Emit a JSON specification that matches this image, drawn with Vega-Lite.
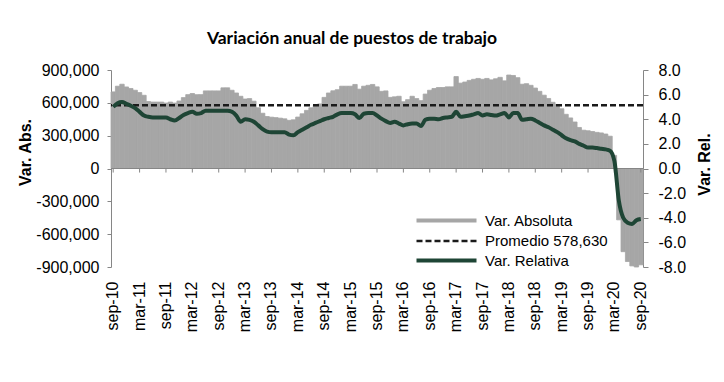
{
  "$schema": "https://vega.github.io/schema/vega-lite/v6.json",
  "width": 532,
  "height": 197,
  "autosize": {"type": "none"},
  "padding": {"left": 111, "top": 70, "right": 81, "bottom": 115},
  "background": "white",
  "title": {"text": "Variación anual de puestos de trabajo", "font": "Lato", "fontSize": 17.5, "fontWeight": "bold", "color": "#000000", "anchor": "middle", "dx": -25, "offset": 15},
  "config": {
    "view": {"stroke": null},
    "axis": {"grid": false, "labelFont": "Liberation Sans", "titleFont": "Liberation Sans", "labelColor": "#000000", "titleColor": "#000000", "domainColor": "#868686", "tickColor": "#868686", "labelOverlap": false, "labelBound": false, "labelFlush": false}
  },
  "data": {"values": [
    {"m": "sep-10", "abs": 700000, "rel": 5.0},
    {"m": "oct-10", "abs": 752000, "rel": 5.3},
    {"m": "nov-10", "abs": 770000, "rel": 5.4},
    {"m": "dic-10", "abs": 745000, "rel": 5.25},
    {"m": "ene-11", "abs": 731000, "rel": 5.1},
    {"m": "feb-11", "abs": 715000, "rel": 4.9},
    {"m": "mar-11", "abs": 694000, "rel": 4.6},
    {"m": "abr-11", "abs": 669000, "rel": 4.3},
    {"m": "may-11", "abs": 612000, "rel": 4.2},
    {"m": "jun-11", "abs": 607000, "rel": 4.15},
    {"m": "jul-11", "abs": 607000, "rel": 4.15},
    {"m": "ago-11", "abs": 607000, "rel": 4.15},
    {"m": "sep-11", "abs": 598000, "rel": 4.15},
    {"m": "oct-11", "abs": 607000, "rel": 4.0},
    {"m": "nov-11", "abs": 598000, "rel": 3.9},
    {"m": "dic-11", "abs": 617000, "rel": 4.1},
    {"m": "ene-12", "abs": 648000, "rel": 4.35},
    {"m": "feb-12", "abs": 675000, "rel": 4.5},
    {"m": "mar-12", "abs": 685000, "rel": 4.6},
    {"m": "abr-12", "abs": 675000, "rel": 4.45},
    {"m": "may-12", "abs": 675000, "rel": 4.5},
    {"m": "jun-12", "abs": 709000, "rel": 4.7},
    {"m": "jul-12", "abs": 709000, "rel": 4.7},
    {"m": "ago-12", "abs": 709000, "rel": 4.7},
    {"m": "sep-12", "abs": 709000, "rel": 4.7},
    {"m": "oct-12", "abs": 737000, "rel": 4.7},
    {"m": "nov-12", "abs": 737000, "rel": 4.7},
    {"m": "dic-12", "abs": 715000, "rel": 4.6},
    {"m": "ene-13", "abs": 690000, "rel": 4.3},
    {"m": "feb-13", "abs": 660000, "rel": 3.8},
    {"m": "mar-13", "abs": 635000, "rel": 4.0},
    {"m": "abr-13", "abs": 639000, "rel": 3.95},
    {"m": "may-13", "abs": 615000, "rel": 3.8},
    {"m": "jun-13", "abs": 555000, "rel": 3.5},
    {"m": "jul-13", "abs": 505000, "rel": 3.2},
    {"m": "ago-13", "abs": 475000, "rel": 3.0},
    {"m": "sep-13", "abs": 469000, "rel": 2.95},
    {"m": "oct-13", "abs": 465000, "rel": 2.95},
    {"m": "nov-13", "abs": 460000, "rel": 2.95},
    {"m": "dic-13", "abs": 454000, "rel": 2.95},
    {"m": "ene-14", "abs": 440000, "rel": 2.75},
    {"m": "feb-14", "abs": 445000, "rel": 2.7},
    {"m": "mar-14", "abs": 470000, "rel": 2.95},
    {"m": "abr-14", "abs": 500000, "rel": 3.15},
    {"m": "may-14", "abs": 531000, "rel": 3.35},
    {"m": "jun-14", "abs": 555000, "rel": 3.55},
    {"m": "jul-14", "abs": 575000, "rel": 3.7},
    {"m": "ago-14", "abs": 590000, "rel": 3.85},
    {"m": "sep-14", "abs": 650000, "rel": 4.0},
    {"m": "oct-14", "abs": 690000, "rel": 4.1},
    {"m": "nov-14", "abs": 710000, "rel": 4.2},
    {"m": "dic-14", "abs": 720000, "rel": 4.4},
    {"m": "ene-15", "abs": 752000, "rel": 4.5},
    {"m": "feb-15", "abs": 752000, "rel": 4.5},
    {"m": "mar-15", "abs": 752000, "rel": 4.5},
    {"m": "abr-15", "abs": 768000, "rel": 4.4},
    {"m": "may-15", "abs": 725000, "rel": 4.1},
    {"m": "jun-15", "abs": 752000, "rel": 4.45},
    {"m": "jul-15", "abs": 760000, "rel": 4.5},
    {"m": "ago-15", "abs": 768000, "rel": 4.5},
    {"m": "sep-15", "abs": 746000, "rel": 4.3},
    {"m": "oct-15", "abs": 705000, "rel": 4.05},
    {"m": "nov-15", "abs": 709000, "rel": 3.85},
    {"m": "dic-15", "abs": 650000, "rel": 3.7},
    {"m": "ene-16", "abs": 655000, "rel": 3.8},
    {"m": "feb-16", "abs": 660000, "rel": 3.65},
    {"m": "mar-16", "abs": 610000, "rel": 3.5},
    {"m": "abr-16", "abs": 629000, "rel": 3.6},
    {"m": "may-16", "abs": 660000, "rel": 3.65},
    {"m": "jun-16", "abs": 639000, "rel": 3.65},
    {"m": "jul-16", "abs": 620000, "rel": 3.45},
    {"m": "ago-16", "abs": 680000, "rel": 3.95},
    {"m": "sep-16", "abs": 715000, "rel": 4.05},
    {"m": "oct-16", "abs": 731000, "rel": 4.05},
    {"m": "nov-16", "abs": 740000, "rel": 4.0},
    {"m": "dic-16", "abs": 740000, "rel": 4.1},
    {"m": "ene-17", "abs": 746000, "rel": 4.15},
    {"m": "feb-17", "abs": 746000, "rel": 4.2},
    {"m": "mar-17", "abs": 840000, "rel": 4.6},
    {"m": "abr-17", "abs": 780000, "rel": 4.2},
    {"m": "may-17", "abs": 790000, "rel": 4.25},
    {"m": "jun-17", "abs": 805000, "rel": 4.3},
    {"m": "jul-17", "abs": 815000, "rel": 4.4},
    {"m": "ago-17", "abs": 823000, "rel": 4.5},
    {"m": "sep-17", "abs": 815000, "rel": 4.3},
    {"m": "oct-17", "abs": 823000, "rel": 4.4},
    {"m": "nov-17", "abs": 810000, "rel": 4.35},
    {"m": "dic-17", "abs": 820000, "rel": 4.3},
    {"m": "ene-18", "abs": 833000, "rel": 4.4},
    {"m": "feb-18", "abs": 801000, "rel": 4.5},
    {"m": "mar-18", "abs": 854000, "rel": 4.15},
    {"m": "abr-18", "abs": 850000, "rel": 4.5},
    {"m": "may-18", "abs": 830000, "rel": 4.5},
    {"m": "jun-18", "abs": 770000, "rel": 3.95},
    {"m": "jul-18", "abs": 775000, "rel": 4.0},
    {"m": "ago-18", "abs": 760000, "rel": 4.05},
    {"m": "sep-18", "abs": 735000, "rel": 3.9},
    {"m": "oct-18", "abs": 705000, "rel": 3.7},
    {"m": "nov-18", "abs": 670000, "rel": 3.5},
    {"m": "dic-18", "abs": 640000, "rel": 3.35},
    {"m": "ene-19", "abs": 605000, "rel": 3.15},
    {"m": "feb-19", "abs": 585000, "rel": 2.95},
    {"m": "mar-19", "abs": 546000, "rel": 2.7},
    {"m": "abr-19", "abs": 495000, "rel": 2.45},
    {"m": "may-19", "abs": 462000, "rel": 2.3},
    {"m": "jun-19", "abs": 425000, "rel": 2.2},
    {"m": "jul-19", "abs": 375000, "rel": 2.0},
    {"m": "ago-19", "abs": 350000, "rel": 1.85},
    {"m": "sep-19", "abs": 345000, "rel": 1.7},
    {"m": "oct-19", "abs": 338000, "rel": 1.7},
    {"m": "nov-19", "abs": 330000, "rel": 1.66},
    {"m": "dic-19", "abs": 325000, "rel": 1.6},
    {"m": "ene-20", "abs": 315000, "rel": 1.55},
    {"m": "feb-20", "abs": 295000, "rel": 1.45},
    {"m": "mar-20", "abs": 120000, "rel": 0.6},
    {"m": "abr-20", "abs": -469000, "rel": -2.6},
    {"m": "may-20", "abs": -760000, "rel": -4.0},
    {"m": "jun-20", "abs": -850000, "rel": -4.4},
    {"m": "jul-20", "abs": -890000, "rel": -4.5},
    {"m": "ago-20", "abs": -900000, "rel": -4.2},
    {"m": "sep-20", "abs": -880000, "rel": -4.1}
  ]},
  "layer": [
    {
      "layer": [
        {
          "mark": {"type": "bar", "stroke": "#a6a6a6", "strokeWidth": 0.8},
          "encoding": {
            "x": {"field": "m", "type": "ordinal", "sort": null,
              "scale": {"paddingInner": 0, "paddingOuter": 0},
              "axis": {"title": null, "values": ["sep-10","mar-11","sep-11","mar-12","sep-12","mar-13","sep-13","mar-14","sep-14","mar-15","sep-15","mar-16","sep-16","mar-17","sep-17","mar-18","sep-18","mar-19","sep-19","mar-20","sep-20"],
                "labelAngle": 270, "labelFontSize": 16, "domain": false, "ticks": false, "tickSize": 0, "labelPadding": 14, "labelOverlap": false, "labelBound": false}},
            "y": {"field": "abs", "type": "quantitative",
              "scale": {"domain": [-900000, 900000], "nice": false, "zero": false},
              "axis": {"orient": "left", "values": [-900000,-600000,-300000,0,300000,600000,900000],
                "labelExpr": "(datum.value < 0 ? '-' : '') + format(abs(datum.value), ',')",
                "labelFontSize": 16, "tickSize": 4, "labelPadding": 8, "labelOverlap": false, "labelBound": false,
                "title": "Var. Abs.", "titleFontSize": 16, "titleFontWeight": "bold", "titlePadding": 2, "titleY": 82}},
            "color": {"datum": "Var. Absoluta",
              "scale": {"domain": ["Var. Absoluta", "Var. Relativa"], "range": ["#a6a6a6", "#1e4535"]},
              "legend": {"orient": "none", "legendX": 328, "legendY": 143, "title": null, "padding": 0,
                "labelFont": "Liberation Sans", "labelFontSize": 15, "labelColor": "#000000", "labelOffset": 31,
                "symbolType": "M-7.5,0H7.5", "symbolSize": 64, "symbolStrokeWidth": 4, "rowPadding": 23,
                "encode": {"symbols": {"update": {
                  "fill": {"value": "transparent"},
                  "opacity": {"value": 1},
                  "strokeCap": {"value": "butt"},
                  "stroke": {"signal": "datum.value == 'Var. Absoluta' ? '#a6a6a6' : '#1e4535'"},
                  "strokeWidth": {"signal": "datum.value == 'Var. Absoluta' ? 11 : 4"}
                }}}}}
          }
        },
        {
          "mark": {"type": "rule", "color": "#868686", "strokeWidth": 1},
          "encoding": {
            "x": {"field": "m", "type": "ordinal", "sort": null},
            "y": {"datum": 0, "type": "quantitative",
              "axis": {"orient": "left", "values": [-900000,-600000,-300000,0,300000,600000,900000],
                "labelExpr": "(datum.value < 0 ? '-' : '') + format(abs(datum.value), ',')",
                "labelFontSize": 16, "tickSize": 4, "labelPadding": 8, "labelOverlap": false, "labelBound": false,
                "title": "Var. Abs.", "titleFontSize": 16, "titleFontWeight": "bold", "titlePadding": 2, "titleY": 82}},
            "y2": {"datum": -37000},
            "opacity": {"condition": {"test": "indexof(datum.m, 'sep') == 0 || indexof(datum.m, 'mar') == 0", "value": 1}, "value": 0}
          }
        },
        {
          "data": {"values": [{}]},
          "mark": {"type": "rule", "color": "#868686", "strokeWidth": 1},
          "encoding": {"y": {"datum": 0, "type": "quantitative",
              "axis": {"orient": "left", "values": [-900000,-600000,-300000,0,300000,600000,900000],
                "labelExpr": "(datum.value < 0 ? '-' : '') + format(abs(datum.value), ',')",
                "labelFontSize": 16, "tickSize": 4, "labelPadding": 8, "labelOverlap": false, "labelBound": false,
                "title": "Var. Abs.", "titleFontSize": 16, "titleFontWeight": "bold", "titlePadding": 2, "titleY": 82}}}
        },
        {
          "data": {"values": [{}]},
          "mark": {"type": "rule", "strokeWidth": 2.5, "color": "#1a1a1a"},
          "encoding": {
            "y": {"datum": 578630, "type": "quantitative",
              "axis": {"orient": "left", "values": [-900000,-600000,-300000,0,300000,600000,900000],
                "labelExpr": "(datum.value < 0 ? '-' : '') + format(abs(datum.value), ',')",
                "labelFontSize": 16, "tickSize": 4, "labelPadding": 8, "labelOverlap": false, "labelBound": false,
                "title": "Var. Abs.", "titleFontSize": 16, "titleFontWeight": "bold", "titlePadding": 2, "titleY": 82}},
            "strokeDash": {"datum": "Promedio 578,630",
              "scale": {"domain": ["Promedio 578,630"], "range": [[6, 3]]},
              "legend": {"orient": "none", "legendX": 328, "legendY": 163.5, "title": null, "padding": 0,
                "labelFont": "Liberation Sans", "labelFontSize": 15, "labelColor": "#000000", "labelOffset": 31,
                "symbolType": "M-7.5,0H7.5", "symbolSize": 64, "symbolStrokeWidth": 2.5, "symbolStrokeColor": "#1a1a1a",
                "encode": {"symbols": {"update": {
                  "fill": {"value": "transparent"},
                  "opacity": {"value": 1},
                  "strokeCap": {"value": "butt"},
                  "stroke": {"value": "#1a1a1a"},
                  "strokeWidth": {"value": 2.5}
                }}}}}
          }
        }
      ]
    },
    {
      "mark": {"type": "line", "strokeWidth": 4, "interpolate": "monotone"},
      "encoding": {
        "x": {"field": "m", "type": "ordinal", "sort": null},
        "y": {"field": "rel", "type": "quantitative",
          "scale": {"domain": [-8, 8], "nice": false, "zero": false},
          "axis": {"orient": "right", "values": [-8,-6,-4,-2,0,2,4,6,8],
            "labelExpr": "(datum.value < 0 ? '-' : '') + format(abs(datum.value), '.1f')",
            "labelFontSize": 16, "tickSize": 5, "labelPadding": 10, "labelOverlap": false, "labelBound": false,
            "title": "Var. Rel.", "titleFontSize": 16, "titleFontWeight": "bold", "titlePadding": 27, "titleY": 94, "titleAngle": 270}},
        "color": {"datum": "Var. Relativa"}
      }
    }
  ],
  "resolve": {"scale": {"y": "independent"}}
}
